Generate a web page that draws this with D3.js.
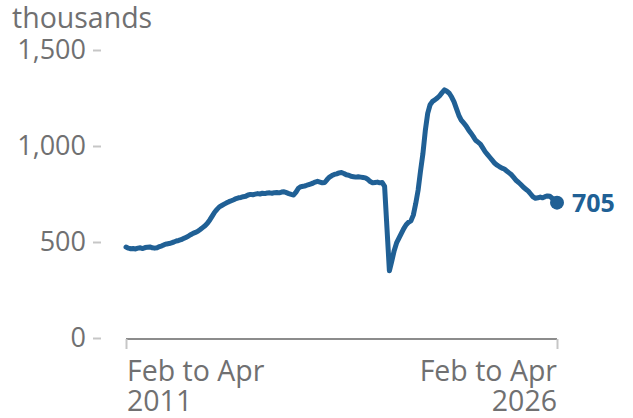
<!DOCTYPE html>
<html>
<head>
<meta charset="utf-8">
<script src="https://cdn.jsdelivr.net/npm/d3@7"></script>
<style>
  html, body { margin: 0; padding: 0; background: #fff; }
  svg { display: block; font-family: "Open Sans", sans-serif; }
</style>
</head>
<body>
<svg id="chart" width="633" height="418"></svg>
<script>
// Vacancies, thousands, rolling three-month periods from Feb to Apr 2011 to Feb to Apr 2026
const periods = ["Feb to Apr 2011", "Feb to Apr 2026"];
const values = [
  474, 468, 465, 466, 464, 468, 470, 466, 471, 473, 474, 470,
  468, 470, 476, 480, 486, 490, 492, 496, 500, 505, 508, 512,
  518, 524, 530, 538, 545, 550, 556, 565, 575, 585, 598, 615,
  635, 655, 670, 683, 690, 697, 704, 710, 715, 720, 726, 730,
  732, 736, 738, 745, 748, 746, 749, 752, 750, 754, 752, 755,
  756, 754, 757, 758, 756, 760, 762, 757, 752, 748, 745, 760,
  780, 788, 790, 793, 798, 802, 806, 812, 816, 812, 808, 810,
  825, 838, 846, 852, 855, 860, 862, 857, 850, 848, 842, 840,
  838, 840, 838, 836, 834, 826, 815, 808, 810, 812, 808, 810,
  790, 570, 350, 400, 455, 495, 520, 545, 570, 590, 603, 610,
  640, 700, 770, 870, 960, 1080, 1170, 1215, 1232, 1240, 1250, 1262,
  1278, 1292, 1285, 1275, 1255, 1230, 1195, 1160, 1135, 1120, 1105, 1085,
  1068, 1050, 1030, 1020, 1010, 990, 970, 955, 940, 925, 910, 900,
  892, 885, 880, 870, 860, 850, 835, 820, 810, 798, 785, 775,
  765, 750, 735, 728, 730, 734, 730, 736, 740, 738, 728, 718,
  705
];
const yTicks = [0, 500, 1000, 1500];
const unitLabel = "thousands";

const svg = d3.select("#chart");
const grey = "#707071";
const blue = "#206095";

const x = d3.scaleLinear().domain([0, values.length - 1]).range([126, 557]);
const y = d3.scaleLinear().domain([0, 1500]).range([338, 50]);

// unit label
svg.append("text")
  .attr("x", 12).attr("y", 28)
  .attr("fill", grey)
  .attr("font-size", 28.5)
  .text(unitLabel);

// y axis
const yAxis = svg.append("g")
  .attr("transform", "translate(101,0)")
  .call(d3.axisLeft(y).tickValues(yTicks).tickSize(8).tickPadding(7)
    .tickFormat(d3.format(",")));
yAxis.select(".domain").remove();
yAxis.selectAll(".tick line").attr("stroke", "#c6c6c6").attr("stroke-width", 2);
yAxis.selectAll(".tick text")
  .attr("fill", grey)
  .attr("font-size", 27)
  .attr("font-family", "Open Sans, sans-serif");

// x axis
const xAxis = svg.append("g")
  .attr("transform", "translate(0,339)")
  .call(d3.axisBottom(x).tickValues([0, values.length - 1]).tickSize(10).tickFormat(""));
xAxis.select(".domain").attr("stroke", "#8c8c8c").attr("stroke-width", 2).attr("d", `M${x(0)},0H${x(values.length - 1)}`);
xAxis.selectAll(".tick line").attr("stroke", "#c6c6c6").attr("stroke-width", 2);

function xLabel(period, i, anchor, dx) {
  const parts = period.split(" ");
  const year = parts.pop();
  const t = svg.append("text")
    .attr("x", x(i) + dx)
    .attr("y", 381)
    .attr("fill", grey)
    .attr("font-size", 28.5)
    .attr("text-anchor", anchor);
  t.append("tspan").attr("x", x(i) + dx).text(parts.join(" "));
  t.append("tspan").attr("x", x(i) + dx).attr("dy", 30).text(year);
}
xLabel(periods[0], 0, "start", 1);
xLabel(periods[1], values.length - 1, "end", 0);

// line
const line = d3.line().x((d, i) => x(i)).y(d => y(d));
svg.append("path")
  .datum(values)
  .attr("fill", "none")
  .attr("stroke", blue)
  .attr("stroke-width", 5)
  .attr("stroke-linejoin", "round")
  .attr("stroke-linecap", "round")
  .attr("d", line);

// end marker
const last = values.length - 1;
svg.append("circle")
  .attr("cx", x(last)).attr("cy", y(values[last]))
  .attr("r", 7)
  .attr("fill", blue);
svg.append("text")
  .attr("x", x(last) + 15)
  .attr("y", y(values[last]) + 9)
  .attr("fill", blue)
  .attr("font-size", 25)
  .attr("font-weight", "bold")
  .text(values[last]);
</script>
</body>
</html>
